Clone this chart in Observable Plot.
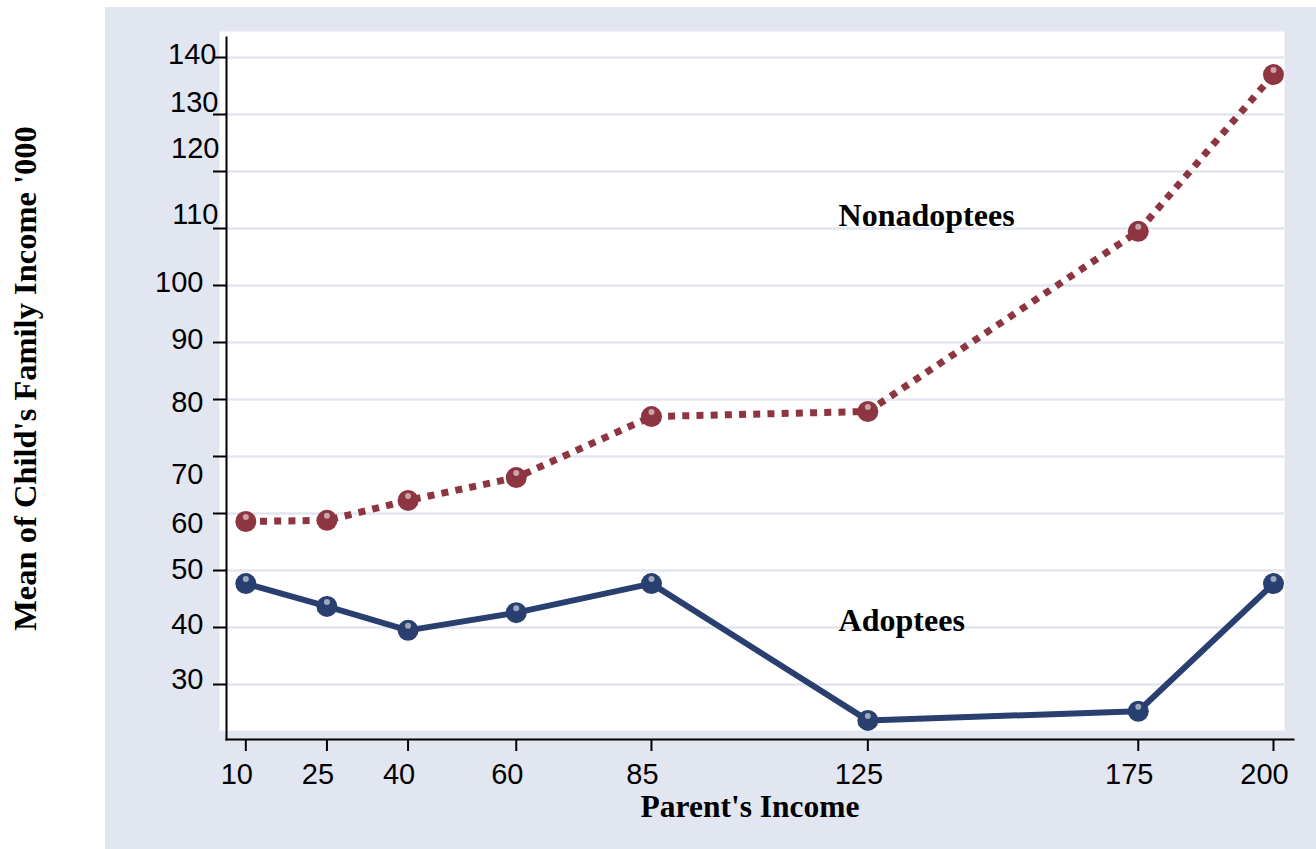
<!DOCTYPE html>
<html>
<head>
<meta charset="utf-8">
<script src="https://cdn.jsdelivr.net/npm/d3@7"></script>
<script src="https://cdn.jsdelivr.net/npm/@observablehq/plot@0.6"></script>
<style>
  html, body { margin: 0; padding: 0; background: #ffffff; }
  #wrap { position: relative; width: 1316px; height: 849px; overflow: hidden; }
  #panel { position: absolute; left: 105px; top: 7px; width: 1211px; height: 842px; background: #e2e6f1; }
  #chart { position: absolute; left: 0; top: 0; }
</style>
</head>
<body>
<div id="wrap">
  <div id="panel"></div>
  <div id="chart"></div>
</div>
<script>
// ---- data ----
const parentIncome = [10, 25, 40, 60, 85, 125, 175, 200];
const nonadoptees = [58.6, 58.8, 62.3, 66.3, 77.0, 77.9, 109.5, 137.0];
const adoptees = [47.7, 43.7, 39.5, 42.6, 47.7, 23.7, 25.3, 47.7];
const xTicks = [10, 25, 40, 60, 85, 125, 175, 200];
const yTicks = [30, 40, 50, 60, 70, 80, 90, 100, 110, 120, 130, 140];
const seriesLabels = ["Nonadoptees", "Adoptees"];
const labelX = [119.6, 119.6];
const labelY = [112.3, 41.2];
const xTitle = "Parent's Income";
const yTitle = "Mean of Child's Family Income '000";

// ---- layout tweaks (label nudges in px, as in the original) ----
const yLabelNudge = {
  30: [0, -5], 40: [0, -3], 50: [0, -1], 60: [0, 10], 70: [0, 18], 80: [0, 3],
  90: [0, -3], 100: [0, -3], 110: [15, -14], 120: [16, -23], 130: [15, -12], 140: [13, -3]
};

const navy = "#283f70";
const maroon = "#8d3540";
const gridColor = "#e2e6f1";

const adoptData = parentIncome.map((x, i) => ({x, y: adoptees[i]}));
const nonData = parentIncome.map((x, i) => ({x, y: nonadoptees[i]}));
const labelData = seriesLabels.map((t, i) => ({t, x: labelX[i], y: labelY[i]}));

const yLabelAxes = yTicks.map(v => Plot.axisY([v], {
  tickSize: 13, tickPadding: 10, stroke: "none", fill: "black",
  fontSize: 29, label: null,
  dx: yLabelNudge[v][0], dy: yLabelNudge[v][1]
}));

const serif = "'Liberation Serif', 'Times New Roman', Times, serif";

const chart = Plot.plot({
  width: 1316,
  height: 849,
  marginLeft: 226,
  marginRight: 23,
  marginTop: 37,
  marginBottom: 110,
  style: {background: "transparent", fontFamily: "'Liberation Sans', Arial, sans-serif", fontSize: "28px", color: "black", overflow: "visible"},
  x: {type: "linear", domain: [6.43, 203.7]},
  y: {type: "linear", domain: [20.35, 143.51]},
  marks: [
    Plot.frame({fill: "white", stroke: null, insetLeft: -7, insetTop: -6, insetRight: 9, insetBottom: 9}),
    Plot.gridY(yTicks, {stroke: gridColor, strokeOpacity: 1, strokeWidth: 2.5, insetRight: 9}),
    Plot.frame({anchor: "left", stroke: "black", strokeWidth: 2}),
    Plot.frame({anchor: "bottom", stroke: "black", strokeWidth: 2}),
    Plot.axisY({ticks: yTicks, tickSize: 13, fill: "none", stroke: "black", strokeWidth: 2, label: null}),
    ...yLabelAxes,
    Plot.axisX({ticks: xTicks, tickSize: 12, fill: "none", stroke: "black", strokeWidth: 2, label: null}),
    Plot.axisX({ticks: xTicks, tickSize: 12, tickPadding: 12, stroke: "none", fill: "black", fontSize: 29, label: null, dx: -9}),
    Plot.line(nonData, {x: "x", y: "y", stroke: maroon, strokeWidth: 7, strokeDasharray: "7,7.2", strokeLinecap: "butt"}),
    Plot.line(adoptData, {x: "x", y: "y", stroke: navy, strokeWidth: 6}),
    Plot.dot(nonData, {x: "x", y: "y", r: 10.5, fill: maroon, stroke: null}),
    Plot.dot(adoptData, {x: "x", y: "y", r: 10.5, fill: navy, stroke: null}),
    Plot.dot(nonData, {x: "x", y: "y", r: 3, fill: "white", fillOpacity: 0.55, dy: -4.5, stroke: null}),
    Plot.dot(adoptData, {x: "x", y: "y", r: 3, fill: "white", fillOpacity: 0.55, dy: -4.5, stroke: null}),
    Plot.text(labelData, {x: "x", y: "y", text: "t", textAnchor: "start", fontFamily: serif, fontWeight: "bold", fontSize: 32, fill: "black"}),
    Plot.text([xTitle], {frameAnchor: "bottom", lineAnchor: "middle", dy: 67, dx: -10, fontFamily: serif, fontWeight: "bold", fontSize: 31.5, fill: "black"}),
    Plot.text([yTitle], {frameAnchor: "left", textAnchor: "middle", lineAnchor: "middle", rotate: -90, dx: -201, dy: -10, fontFamily: serif, fontWeight: "bold", fontSize: 32.5, fill: "black"})
  ]
});
document.getElementById("chart").appendChild(chart);
</script>
</body>
</html>
